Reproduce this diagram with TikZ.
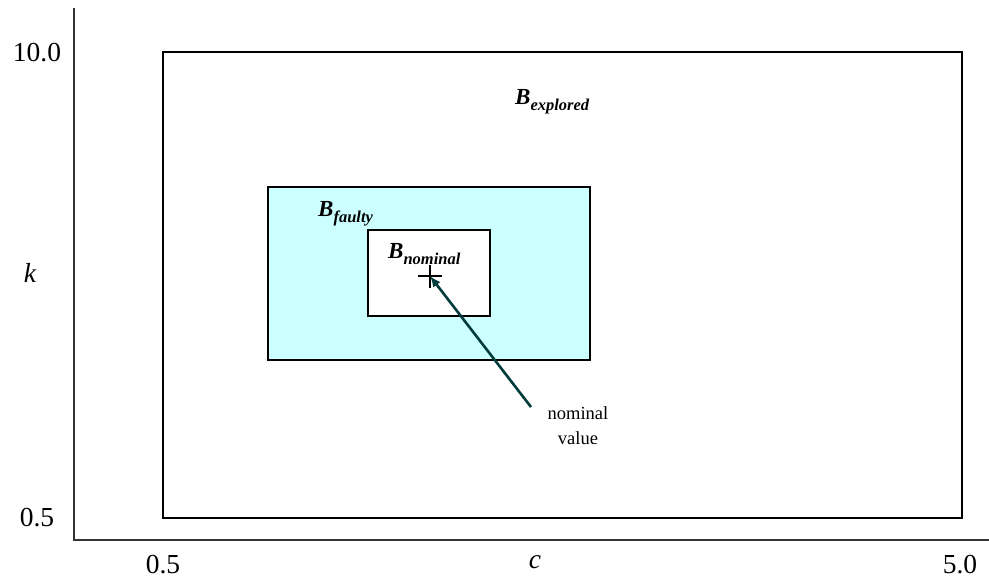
\documentclass[tikz,border=0pt]{standalone}
\usepackage{fontspec}
\setmainfont{Liberation Serif}
\usetikzlibrary{arrows.meta}
\definecolor{faultfill}{HTML}{CCFFFF}
\definecolor{pointer}{HTML}{003C3C}
\newcommand{\boxsub}[1]{\raisebox{-0.28em}{\fontsize{16.5}{18}\selectfont #1}}
\begin{document}
\begin{tikzpicture}[x=1pt,y=-1pt,
  axis/.style={line width=1.2pt,black!80},
  region/.style={draw=black,line width=2.3pt},
  ticklabel/.style={font=\fontsize{27.5}{30}\selectfont,inner sep=0pt},
  boxlabel/.style={font=\fontsize{23}{24}\selectfont\bfseries\itshape,inner sep=0pt},
  note/.style={font=\fontsize{18.5}{25}\selectfont,align=center,inner sep=0pt}]
\useasboundingbox (0,0) rectangle (989,581);
% axes
\coordinate (ytop) at (74,8);
\coordinate (origin) at (74,540);
\coordinate (xend) at (989,540);
\draw[axis] (ytop) -- (origin) -- (xend);
% parameter regions
\draw[region] (163,52) rectangle (962,518);
\draw[region,fill=faultfill] (268,187) rectangle (590,360);
\draw[region,fill=white] (368,230) rectangle (490,316);
\node[boxlabel,anchor=base west] (bexp) at (515,104) {B\boxsub{explored}};
\node[boxlabel,anchor=base west] (bfault) at (318,216) {B\boxsub{faulty}};
\node[boxlabel,anchor=base west] (bnom) at (388,258) {B\boxsub{nominal}};
% nominal point
\coordinate (nom) at (430,276);
\draw[line width=2.3pt] (418,276) -- (442,276) (430,265) -- (430,288);
\node[note] (nv) at (578,426) {nominal\\value};
\draw[pointer,line width=2.6pt,-{Latex[length=11pt,width=9pt]}] (531,407) -- (nom);
% tick labels
\node[ticklabel] (y1) at (37,53) {10.0};
\node[ticklabel] (y0) at (37,518) {0.5};
\node[ticklabel,font=\fontsize{27.5}{30}\selectfont\itshape] (ky) at (30,273) {k};
\node[ticklabel] (x0) at (163,565) {0.5};
\node[ticklabel,font=\fontsize{27.5}{30}\selectfont\itshape] (cx) at (535,562) {c};
\node[ticklabel] (x1) at (960,565) {5.0};
\end{tikzpicture}
\end{document}
